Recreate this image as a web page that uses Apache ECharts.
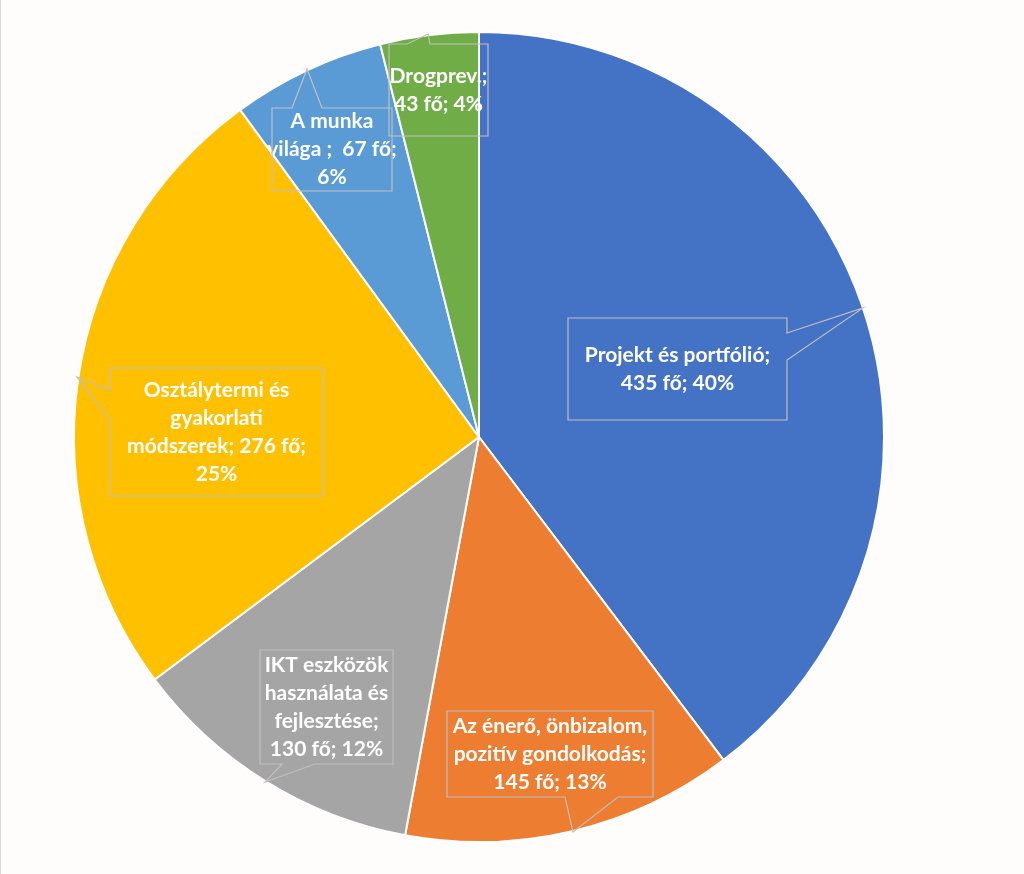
<!DOCTYPE html>
<html>
<head>
<meta charset="utf-8">
<script src="https://cdn.jsdelivr.net/npm/echarts@6/dist/echarts.min.js"></script>
<style>
html,body{margin:0;padding:0;background:#FEFDFB;}
#chart{width:1024px;height:874px;}
</style>
</head>
<body>
<div id="chart"></div>
<script>
// ---- data ----
const categories = [
  'Projekt és portfólió',
  'Az énerő, önbizalom,\npozitív gondolkodás',
  'IKT eszközök\nhasználata és\nfejlesztése',
  'Osztálytermi és\ngyakorlati\nmódszerek',
  'A munka\nvilága ',
  'Drogprev.'
];
const values = [435, 145, 130, 276, 67, 43];
const unit = 'fő';

// ---- style ----
const colors = ['#4472C4', '#ED7D31', '#A5A5A5', '#FFC000', '#5B9BD5', '#70AD47'];
const breakAfterValue = [false, false, false, true, true, false];
const valueSep = [' ', ' ', ' ', ' ', '  ', ' '];
// callout boxes: [left, top, right, bottom] and pointer [edge, a, b, tipX, tipY]
const boxes = [
  {r:[568,318,787,420], p:['right',333,360,863,308]},
  {r:[447,711,653,797], p:['bottom',565,618,573,832]},
  {r:[260,650,393,764], p:['bottom',282,315,265,782]},
  {r:[110,368,323,496], p:['left',390,420,77,377]},
  {r:[272,108,392,191], p:['top',292,322,307,69]},
  {r:[389,44,488,136],  p:['top',407,430,428,34]}
];

function calloutPoints(b) {
  const [l,t,r,bt] = b.r;
  const [edge,a,c,tx,ty] = b.p;
  if (edge === 'right') return [[l,t],[r,t],[r,a],[tx,ty],[r,c],[r,bt],[l,bt]];
  if (edge === 'bottom') return [[l,t],[r,t],[r,bt],[c,bt],[tx,ty],[a,bt],[l,bt]];
  if (edge === 'left') return [[l,t],[r,t],[r,bt],[l,bt],[l,c],[tx,ty],[l,a]];
  return [[l,t],[a,t],[tx,ty],[c,t],[r,t],[r,bt],[l,bt]];
}

const graphics = boxes.map(b => ({
  type: 'polygon',
  shape: { points: calloutPoints(b) },
  style: { fill: 'none', stroke: '#BFBFBF', lineWidth: 1.2 },
  z: 100
}));
graphics.push({
  type: 'line', shape: {x1: 0.5, y1: 0, x2: 0.5, y2: 874},
  style: {stroke: '#D9D9D9', lineWidth: 1}
});

const chart = echarts.init(document.getElementById('chart'));
chart.setOption({
  backgroundColor: '#FEFDFB',
  animation: false,
  color: colors,
  graphic: graphics,
  series: [{
    type: 'pie',
    center: [479, 437],
    radius: 405,
    startAngle: 90,
    clockwise: true,
    avoidLabelOverlap: false,
    itemStyle: { borderColor: '#FFFFFF', borderWidth: 2 },
    labelLine: { show: false },
    label: {
      show: true,
      position: 'inside',
      color: '#FFFFFF',
      fontFamily: 'Lato',
      fontWeight: 'bold',
      fontSize: 21,
      lineHeight: 28,
      align: 'center',
      formatter: p => {
        const pct = Math.round(p.percent) + '%';
        const i = p.dataIndex;
        if (breakAfterValue[i]) {
          return p.name + ';' + valueSep[i] + p.value + ' ' + unit + ';\n' + pct;
        }
        return p.name + ';\n' + p.value + ' ' + unit + '; ' + pct;
      }
    },
    labelLayout: params => {
      const b = boxes[params.dataIndex].r;
      return {
        x: (b[0] + b[2]) / 2,
        y: (b[1] + b[3]) / 2,
        align: 'center',
        verticalAlign: 'middle'
      };
    },
    data: categories.map((c, i) => ({ name: c, value: values[i] }))
  }]
});
</script>
</body>
</html>
